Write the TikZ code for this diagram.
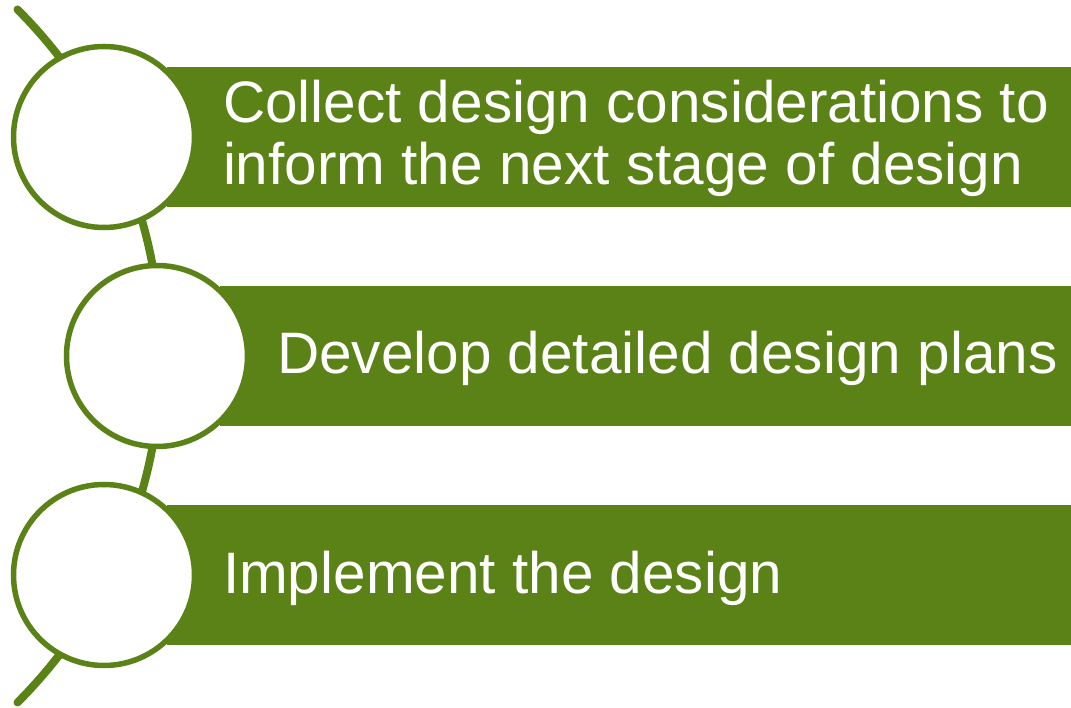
\documentclass[tikz,border=0pt]{standalone}
\usepackage{fontspec}
\setmainfont{Liberation Sans}
\definecolor{leaf}{RGB}{91,130,22}
\begin{document}
\begin{tikzpicture}[x=1pt,y=1pt,
  bar/.style={fill=leaf,draw=none,minimum height=140pt,inner sep=0pt,outer sep=0pt,anchor=west},
  ring/.style={circle,draw=leaf,line width=5.5pt,fill=white,minimum size=181pt,inner sep=0pt,outer sep=0pt},
  label/.style={text=white,font=\fontsize{58.5}{62}\selectfont,inner sep=0pt,outer sep=0pt,align=left,anchor=base west},
  spine/.style={draw=leaf,line width=8pt,line cap=round}]
\useasboundingbox (0,0) rectangle (1071,707);
\coordinate (top) at (17.5,697.5);
\draw[spine] (top) arc[start angle=45,end angle=-45,radius=490] coordinate (bottom);
\node[bar,minimum width=904pt] (b1) at (167,570) {};
\node[bar,minimum width=851pt] (b2) at (220,351) {};
\node[bar,minimum width=904pt] (b3) at (167,131.5) {};
\node[ring] (c1) at (104,570) {};
\node[ring] (c2) at (157,351) {};
\node[ring] (c3) at (104,132) {};
\node[label] (t1) at (223,522) {Collect design considerations to\\inform the next stage of design};
\node[label] (t2) at (277,333) {Develop detailed design plans};
\node[label] (t3) at (223,113.5) {Implement the design};
\end{tikzpicture}
\end{document}
